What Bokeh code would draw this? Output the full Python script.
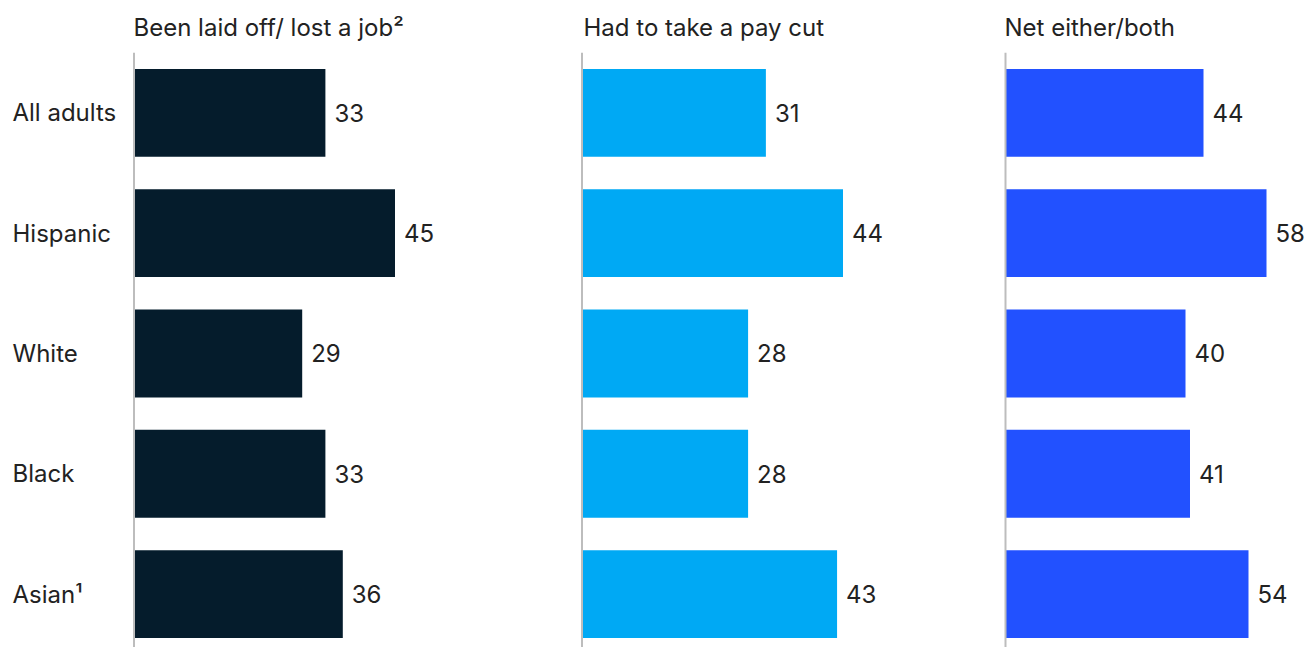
from bokeh.plotting import figure
from bokeh.layouts import row
from bokeh.models import Range1d, Span
from bokeh.core.properties import value
from bokeh.embed import file_html
from bokeh.resources import INLINE

# ---- data ----
categories = ["All adults", "Hispanic", "White", "Black", "Asian\u00b9"]
laid_off = [33, 45, 29, 33, 36]
pay_cut = [31, 44, 28, 28, 43]
net_either = [44, 58, 40, 41, 54]
titles = ["Been laid off/ lost a job\u00b2", "Had to take a pay cut", "Net either/both"]
colors = ["#051C2C", "#00A9F4", "#2251FF"]

# ---- layout constants (pixels) ----
FONT = "Inter"
FS = "24px"
TXT = "#222222"
H = 647
TOP = 51
ROW_PX = 120.5
FIRST_CENTER = 111.5 - TOP
BAR_PX = 88
MAX_BAR_PX = 261

panels = [
    dict(values=laid_off, left=0, width=570, axis_px=133.5, title_x=133, cats=True),
    dict(values=pay_cut, left=570, width=425, axis_px=581.5, title_x=583, cats=False),
    dict(values=net_either, left=995, width=319, axis_px=1005, title_x=1004, cats=False),
]

idx = list(range(len(categories)))
frame_h = H - TOP
y_start = (frame_h - FIRST_CENTER) / ROW_PX
y_end = -FIRST_CENTER / ROW_PX

figs = []
for k, pnl in enumerate(panels):
    vals = pnl["values"]
    scale = MAX_BAR_PX / max(vals)
    a = pnl["axis_px"] - pnl["left"]
    x0 = -a / scale
    x1 = (pnl["width"] - a) / scale
    p = figure(width=pnl["width"], height=H, x_range=Range1d(x0, x1),
               y_range=Range1d(y_start, y_end), output_backend="svg",
               toolbar_location=None, min_border_left=0, min_border_right=0,
               min_border_bottom=0, min_border_top=TOP)
    p.axis.visible = False
    p.grid.visible = False
    p.outline_line_color = None
    p.background_fill_color = "white"
    p.border_fill_color = "white"

    p.title.text = titles[k]
    p.title.text_font = FONT
    p.title.text_font_size = FS
    p.title.text_font_style = "normal"
    p.title.text_color = TXT
    p.title.align = "left"
    p.title.offset = pnl["title_x"] - pnl["left"]
    p.title.standoff = 21

    p.hbar(y=idx, left=0, right=vals, height=BAR_PX / ROW_PX,
           color=colors[k], line_color=None)
    p.add_layout(Span(location=0, dimension="height", line_color="#BDBDBD",
                      line_width=2))
    p.text(x=vals, y=idx, text=[str(v) for v in vals], x_offset=9,
           text_baseline="middle", text_align="left", text_font=value(FONT),
           text_font_size=FS, text_color=TXT)
    if pnl["cats"]:
        p.text(x=[x0] * len(categories), y=idx, text=categories, x_offset=12,
               text_baseline="middle", text_align="left", text_font=value(FONT),
               text_font_size=FS, text_color=TXT)
    figs.append(p)

layout = row(*figs, spacing=0)
open("out.html", "w").write(file_html(layout, INLINE))
